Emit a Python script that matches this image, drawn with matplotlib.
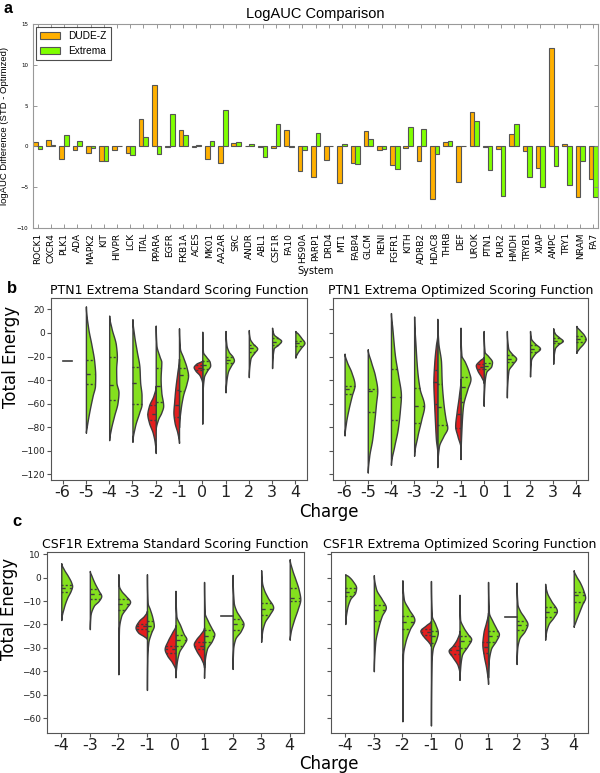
"""LogAUC comparison bars plus split violin plots of total energy by charge."""

import matplotlib
matplotlib.use("Agg")
import matplotlib.pyplot as plt
import numpy as np

# ------------------------------------------------------------------ panel a
SYSTEMS = ["ROCK1", "CXCR4", "PLK1", "ADA", "MAPK2", "KIT", "HIVPR", "LCK",
           "ITAL", "PPARA", "EGFR", "FKB1A", "ACES", "MK01", "AA2AR", "SRC",
           "ANDR", "ABL1", "CSF1R", "FA10", "HS90A", "PARP1", "DRD4", "MT1",
           "FABP4", "GLCM", "RENI", "FGFR1", "KITH", "ADRB2", "HDAC8", "THRB",
           "DEF", "UROK", "PTN1", "PUR2", "HMDH", "TRYB1", "XIAP", "AMPC",
           "TRY1", "NRAM", "FA7"]
DUDEZ_DIFF = [0.6, 0.75, -1.5, -0.5, -0.8, -1.75, -0.5, -0.85, 3.4, 7.55,
              -0.1, 2.0, -0.05, -1.6, -2.0, 0.45, 0.1, -0.05, -0.15, 2.0,
              -3.0, -3.8, -1.65, -4.45, -2.0, 1.9, -0.45, -2.25, -0.2, -1.8,
              -6.45, 0.5, -4.35, 4.25, -0.05, -0.3, 1.5, -0.55, -2.65, 12.0,
              0.35, -6.2, -4.0]
EXTREMA_DIFF = [-0.3, 0.15, 1.45, 0.7, -0.25, -1.8, 0.05, -1.05, 1.15, -0.9,
                4.0, 1.45, 0.2, 0.7, 4.4, 0.6, 0.35, -1.3, 2.75, -0.05,
                -0.5, 1.6, 0.02, 0.25, -2.15, 0.95, -0.3, -2.75, 2.4, 2.15,
                -0.95, 0.65, 0.05, 3.1, -2.9, -6.1, 2.75, -3.8, -5.0, -2.4,
                -4.75, -1.8, -6.15]

# ------------------------------------------------------------ panels b / c
# Each half violin: charge -> (energy knots, scaled density, quartiles 25/50/75)
PTN1_CHARGES = list(range(-6, 5))
CSF1R_CHARGES = list(range(-4, 5))

PTN1_STD_GREEN = {
    -5: ([22.6, 4.0, -10.3, -24.6, -36.1, -44.7, -53.2, -67.5, -79.0, -84.7],
         [0, .10, .24, .36, .40, .39, .29, .14, .04, 0], [-43.5, -35.2, -22.6]),
    -4: ([14.8, 4.0, -10.3, -20.3, -30.4, -41.8, -50.4, -59.0, -70.4, -81.9, -91.0],
         [0, .10, .29, .33, .30, .31, .40, .36, .21, .07, 0], [-57.0, -43.8, -20.6]),
    -3: ([11.7, -1.7, -16.0, -28.9, -41.8, -53.2, -60.4, -67.5, -79.0, -92.4],
         [0, .07, .19, .30, .33, .39, .39, .29, .11, 0], [-60.7, -42.4, -28.9]),
    -2: ([6.3, -10.3, -20.3, -24.6, -38.9, -50.4, -61.8, -67.5, -73.3, -81.9],
         [0, .03, .17, .24, .21, .24, .32, .24, .10, 0], [-59.0, -45.0, -29.5]),
    -1: ([4.0, -13.2, -20.3, -28.9, -36.1, -43.2, -53.2, -64.7, -80.0],
         [0, .04, .17, .32, .39, .32, .17, .07, 0], [-49.0, -36.0, -30.0]),
    0: ([1.1, -16.0, -20.3, -24.6, -27.5, -31.8, -37.5, -53.2, -77.0],
        [0, .03, .17, .32, .34, .21, .07, .01, 0], [-30.5, -27.5, -24.0]),
    1: ([1.7, -10.3, -16.0, -20.3, -23.2, -27.5, -33.2, -41.8, -50.4],
        [0, .04, .14, .31, .36, .24, .10, .03, 0], [-25.7, -23.0, -20.2]),
    2: ([2.5, -4.6, -8.9, -13.2, -16.6, -21.8, -37.5],
        [0, .04, .17, .36, .24, .07, 0], [-16.0, -13.0, -10.5]),
    3: ([4.5, -1.2, -4.0, -6.6, -9.8, -13.2, -29.8],
        [0, .07, .24, .39, .27, .07, 0], [-10.3, -7.5, -4.6]),
    4: ([1.7, -0.3, -4.6, -8.3, -12.6, -17.5, -20.9],
        [0, .10, .27, .39, .24, .07, 0], [-10.9, -8.3, -6.6]),
}
PTN1_STD_RED = {
    -2: ([-44.7, -53.2, -61.8, -69.0, -76.1, -84.7, -93.3, -101.9],
         [0, .10, .29, .36, .29, .13, .04, 0], [-74.0, -69.0, -61.0]),
    -1: ([-21.8, -33.2, -47.5, -59.0, -67.5, -76.1, -84.7, -93.3],
         [0, .07, .16, .21, .24, .19, .07, 0], [-71.5, -61.0, -48.0]),
    0: ([-23.2, -26.1, -28.9, -31.8, -36.1, -43.2],
        [0, .26, .37, .30, .11, 0], [-31.0, -29.5, -27.5]),
}
PTN1_STD_GREEN_SINGLE = {-6: -24.0}

PTN1_OPT_GREEN = {
    -6: ([-17.5, -24.6, -33.2, -44.1, -53.2, -64.7, -76.1, -87.0],
         [0, .10, .29, .43, .31, .17, .06, 0], [-52.1, -47.5, -44.7]),
    -5: ([-13.8, -24.6, -36.1, -49.0, -59.0, -73.3, -90.4, -104.8, -118.5],
         [0, .14, .31, .41, .36, .29, .19, .06, 0], [-67.0, -49.0, -47.5]),
    -4: ([16.9, 4.0, -18.9, -36.1, -53.2, -64.7, -81.9, -96.2, -111.9],
         [0, .06, .17, .31, .43, .39, .29, .14, 0], [-73.8, -54.1, -30.9]),
    -3: ([14.0, -10.3, -33.2, -47.5, -61.8, -73.3, -87.6, -104.2],
         [0, .06, .14, .24, .43, .31, .14, 0], [-76.7, -62.4, -47.0]),
    -2: ([12.0, -7.5, -24.6, -41.8, -59.0, -73.3, -80.4, -87.6, -96.2, -113.9],
         [0, .04, .16, .19, .26, .36, .43, .26, .07, 0], [-78.4, -62.7, -43.2]),
    -1: ([4.5, -18.9, -24.6, -33.2, -38.9, -47.5, -61.8, -81.9, -107.0],
         [0, .04, .19, .36, .43, .30, .11, .04, 0], [-59.0, -45.5, -37.5]),
    0: ([1.7, -16.0, -19.5, -24.6, -28.1, -33.2, -41.8, -61.8],
        [0, .04, .19, .36, .33, .11, .04, 0], [-30.9, -28.1, -25.2]),
    1: ([1.7, -13.2, -17.5, -21.8, -26.1, -31.8, -54.7],
        [0, .06, .21, .40, .26, .07, 0], [-24.6, -21.8, -18.9]),
    2: ([1.7, -4.6, -8.9, -13.2, -17.5, -23.2, -36.9],
        [0, .04, .21, .43, .21, .04, 0], [-16.0, -13.2, -10.3]),
    3: ([4.0, -0.3, -3.8, -6.6, -9.8, -13.2, -26.1],
        [0, .07, .26, .41, .21, .07, 0], [-8.9, -6.6, -4.0]),
    4: ([6.0, 2.5, -1.8, -5.2, -8.9, -13.2, -16.9],
        [0, .14, .33, .40, .30, .11, 0], [-8.0, -5.2, -2.3]),
}
PTN1_OPT_RED = {
    -2: ([-1.2, -10.3, -24.6, -41.8, -59.0, -76.1, -90.4, -101.9],
         [0, .06, .13, .17, .14, .10, .06, 0], [-60.0, -42.0, -31.0]),
    -1: ([-38.9, -53.2, -67.5, -79.0, -87.6, -97.6],
         [0, .07, .17, .23, .13, 0], [-81.0, -69.0, -55.0]),
    0: ([-20.3, -23.2, -27.5, -31.8, -37.5, -42.4],
        [0, .17, .34, .27, .10, 0], [-30.4, -28.9, -26.0]),
}

CSF1R_STD_GREEN = {
    -4: ([6.2, 3.6, 0.8, -2.1, -3.5, -5.6, -8.5, -12.7, -18.1],
         [0, .09, .23, .35, .38, .33, .21, .09, 0], [-6.1, -4.4, -3.2]),
    -3: ([2.9, 0.8, -2.1, -5.6, -7.8, -9.9, -12.0, -16.3, -22.0],
         [0, .06, .16, .31, .40, .31, .14, .02, 0], [-9.3, -7.0, -5.0]),
    -2: ([1.5, -3.5, -5.6, -7.8, -10.3, -12.7, -16.3, -22.0, -41.3],
         [0, .02, .10, .26, .41, .29, .10, .02, 0], [-13.9, -11.4, -9.3]),
    -1: ([1.5, -10.6, -13.4, -17.0, -20.5, -23.4, -27.6, -34.7, -48.0],
         [0, .02, .10, .19, .24, .15, .05, .01, 0], [-22.8, -20.6, -18.6]),
    0: ([-5.6, -16.3, -20.5, -24.1, -26.2, -28.4, -31.9, -37.6, -42.6],
        [0, .03, .17, .29, .38, .29, .12, .03, 0], [-29.3, -26.7, -24.5]),
    1: ([-1.8, -14.9, -18.4, -22.0, -24.1, -26.9, -30.5, -36.2, -42.8],
        [0, .02, .13, .28, .36, .28, .10, .02, 0], [-27.6, -25.1, -22.4]),
    2: ([1.2, -10.6, -14.2, -17.0, -19.8, -22.7, -26.2, -30.5, -39.0],
        [0, .04, .13, .27, .38, .29, .09, .02, 0], [-22.4, -19.8, -17.7]),
    3: ([3.2, -2.1, -4.9, -8.5, -12.7, -15.6, -19.1, -23.4, -27.4],
        [0, .03, .09, .23, .42, .30, .12, .03, 0], [-16.0, -13.2, -10.6]),
    4: ([7.9, 3.6, -0.7, -4.9, -9.2, -13.4, -18.4, -23.4, -26.5],
        [0, .08, .20, .31, .37, .28, .14, .03, 0], [-9.9, -8.5, -4.6]),
}
CSF1R_STD_RED = {
    -1: ([-14.1, -16.3, -18.4, -21.3, -23.4, -25.1, -26.2],
         [0, .10, .28, .40, .31, .10, 0], [-22.0, -20.8, -19.8]),
    0: ([-20.3, -23.4, -26.9, -30.5, -33.3, -36.2, -39.7],
        [0, .12, .27, .38, .29, .12, 0], [-32.2, -30.5, -29.1]),
    1: ([-21.3, -24.1, -26.2, -28.4, -31.2, -34.7, -38.3],
        [0, .13, .27, .36, .27, .10, 0], [-30.5, -29.0, -27.4]),
}
CSF1R_STD_RED_SINGLE = {2: -16.5}

CSF1R_OPT_GREEN = {
    -4: ([1.5, 0.8, -1.4, -4.2, -6.3, -9.2, -13.4, -19.8],
         [0, .09, .26, .38, .35, .17, .06, 0], [-8.0, -6.2, -4.5]),
    -3: ([1.1, -4.9, -9.2, -12.7, -16.3, -22.0, -27.6, -40.0],
         [0, .08, .28, .42, .28, .14, .05, 0], [-18.4, -13.7, -11.7]),
    -2: ([-1.1, -9.2, -13.4, -18.0, -22.0, -27.6, -33.3, -61.4],
         [0, .05, .22, .42, .26, .10, .02, 0], [-22.0, -19.1, -16.3]),
    -1: ([-1.4, -16.3, -19.8, -23.4, -26.2, -30.5, -36.2, -63.2],
         [0, .03, .15, .24, .19, .06, .02, 0], [-28.1, -25.1, -22.7]),
    0: ([-7.3, -17.7, -21.3, -24.1, -26.2, -29.1, -33.3, -39.0, -43.7],
        [0, .02, .14, .29, .41, .29, .08, .02, 0], [-30.1, -27.2, -25.1]),
    1: ([-1.8, -14.9, -18.4, -22.0, -24.1, -26.9, -30.5, -36.2, -42.6],
        [0, .03, .15, .30, .38, .28, .10, .02, 0], [-27.6, -25.1, -22.7]),
    2: ([-2.1, -11.3, -14.2, -17.0, -19.8, -22.7, -26.2, -30.5, -36.9],
        [0, .03, .12, .27, .38, .29, .09, .02, 0], [-22.4, -20.3, -18.4]),
    3: ([-2.6, -6.3, -9.9, -14.2, -17.0, -19.8, -23.4, -26.5],
        [0, .06, .21, .41, .29, .12, .03, 0], [-17.0, -14.6, -12.4]),
    4: ([3.2, 0.8, -2.1, -5.6, -8.5, -11.3, -15.6, -19.1, -21.0],
        [0, .08, .22, .34, .40, .30, .16, .05, 0], [-10.2, -7.5, -6.1]),
}
CSF1R_OPT_RED = {
    -1: ([-18.4, -20.3, -22.7, -25.1, -27.6, -29.3],
         [0, .17, .37, .26, .08, 0], [-24.5, -23.4, -22.0]),
    0: ([-22.7, -26.2, -29.1, -31.2, -34.0, -37.6, -41.1],
        [0, .09, .24, .38, .24, .06, 0], [-32.6, -30.8, -29.3]),
    1: ([-14.9, -19.1, -23.4, -28.4, -33.3, -39.0, -45.4],
        [0, .07, .16, .20, .15, .06, 0], [-32.2, -29.8, -27.6]),
}
CSF1R_OPT_RED_SINGLE = {2: -17.0}

ORANGE = "#FFB000"
LIME = "#80FF00"
V_GREEN = "#84E01E"
V_RED = "#E41E1E"
EDGE = "#3d3d3d"
SPINE = "#555555"


def pchip(x, y, xn):
    """Shape preserving cubic through the read-off knots (keeps width >= 0)."""
    x = np.asarray(x, float)
    y = np.asarray(y, float)
    h = np.diff(x)
    delta = np.diff(y) / h
    m = np.zeros_like(y)
    for k in range(1, len(x) - 1):
        if delta[k - 1] * delta[k] > 0:
            w1 = 2 * h[k] + h[k - 1]
            w2 = h[k] + 2 * h[k - 1]
            m[k] = (w1 + w2) / (w1 / delta[k - 1] + w2 / delta[k])
    xn = np.asarray(xn, float)
    i = np.clip(np.searchsorted(x, xn) - 1, 0, len(x) - 2)
    t = (xn - x[i]) / h[i]
    return ((2 * t**3 - 3 * t**2 + 1) * y[i] + (t**3 - 2 * t**2 + t) * h[i] * m[i]
            + (-2 * t**3 + 3 * t**2) * y[i + 1] + (t**3 - t**2) * h[i] * m[i + 1])


def half_violin(ax, pos, side, energies, density, quartiles, color):
    e = np.asarray(energies, float)[::-1]
    d = np.asarray(density, float)[::-1]
    grid = np.linspace(e[0], e[-1], 300)
    w = np.clip(pchip(e, d, grid), 0, None)
    ax.fill_betweenx(grid, pos, pos + side * w, facecolor=color,
                     edgecolor=EDGE, linewidth=1.0, zorder=2)
    for q, dash in zip(quartiles, [(1.5, 1.5), (3, 3), (1.5, 1.5)]):
        wq = float(np.clip(pchip(e, d, [q])[0], 0, None))
        ax.plot([pos, pos + side * wq], [q, q], color=EDGE, lw=1.0,
                dashes=dash, zorder=3)


def violin_panel(ax, charges, green, red, green_single, red_single, title,
                 ylim, yticks, show_ylabels):
    for pos, ch in enumerate(charges):
        if ch in green:
            half_violin(ax, pos, 1, *green[ch], V_GREEN)
        if ch in red:
            half_violin(ax, pos, -1, *red[ch], V_RED)
        if ch in green_single:
            ax.plot([pos, pos + 0.4], [green_single[ch]] * 2, color=EDGE, lw=1.2)
        if ch in red_single:
            ax.plot([pos - 0.4, pos], [red_single[ch]] * 2, color=EDGE, lw=1.2)
    ax.set_xlim(-0.5, len(charges) - 0.5)
    ax.set_ylim(*ylim)
    ax.set_xticks(range(len(charges)))
    ax.set_xticklabels([str(c) for c in charges], fontsize=11.5)
    ax.set_yticks(yticks)
    ax.tick_params(colors=SPINE, labelcolor="#222222", width=0.8)
    ax.tick_params(axis="y", labelsize=6.5, labelleft=show_ylabels,
                   length=3, pad=1.5)
    ax.tick_params(axis="x", length=3, pad=0.3)
    for s in ax.spines.values():
        s.set_color(SPINE)
    ax.set_title(title, fontsize=9, pad=3)


def main() -> None:
    fig = plt.figure(figsize=(6.0, 7.73), dpi=100)
    W, H = 600.0, 773.0

    def box(left, top, right, bottom):
        return [left / W, 1 - bottom / H, (right - left) / W, (bottom - top) / H]

    # ---------------------------------------------------------- panel a
    ax = fig.add_axes(box(33, 24, 598, 228))
    x = np.arange(len(SYSTEMS))
    ax.bar(x, DUDEZ_DIFF, width=0.35, align="edge", color=ORANGE,
           edgecolor="#555555", linewidth=0.8, label="DUDE-Z")
    ax.bar(x + 0.35, EXTREMA_DIFF, width=0.35, align="edge", color=LIME,
           edgecolor="#555555", linewidth=0.8, label="Extrema")
    ax.set_xlim(0, len(SYSTEMS) - 0.3)
    ax.set_ylim(-10, 15)
    ax.set_xticks(x + 0.35)
    ax.set_xticklabels(SYSTEMS, rotation=90, fontsize=6.5)
    ax.set_yticks([-10, -5, 0, 5, 10, 15])
    ax.tick_params(axis="y", labelsize=4)
    ax.tick_params(direction="in", top=True, right=True, colors="#888888",
                   labelcolor="black", length=3, width=0.6)
    for s in ax.spines.values():
        s.set_color("#999999")
    ax.set_xlabel("System", fontsize=7, labelpad=1)
    ax.set_ylabel("logAUC Difference (STD - Optimized)", fontsize=6.8,
                  family="Liberation Sans")
    ax.yaxis.set_label_coords(-0.042, 0.5)
    ax.set_title("LogAUC Comparison", fontsize=10.5, family="Liberation Sans",
                 pad=4)
    leg = ax.legend(loc="upper left", fancybox=False, borderaxespad=0.3,
                    prop={"family": "Liberation Sans", "size": 7.3})
    leg.get_frame().set_edgecolor("#222222")
    leg.get_frame().set_linewidth(0.8)

    # ---------------------------------------------------------- panel b
    b1 = fig.add_axes(box(51, 298, 307, 480))
    b2 = fig.add_axes(box(333, 298, 588, 480))
    b_ylim = (-124.8, 29.7)
    b_ticks = range(-120, 21, 20)
    violin_panel(b1, PTN1_CHARGES, PTN1_STD_GREEN, PTN1_STD_RED,
                 PTN1_STD_GREEN_SINGLE, {}, "PTN1 Extrema Standard Scoring Function",
                 b_ylim, b_ticks, True)
    violin_panel(b2, PTN1_CHARGES, PTN1_OPT_GREEN, PTN1_OPT_RED, {}, {},
                 "PTN1 Extrema Optimized Scoring Function", b_ylim, b_ticks, False)

    # ---------------------------------------------------------- panel c
    c1 = fig.add_axes(box(47, 552, 304, 733))
    c2 = fig.add_axes(box(331, 552, 588, 733))
    c_ylim = (-66.4, 11.0)
    c_ticks = range(-60, 11, 10)
    violin_panel(c1, CSF1R_CHARGES, CSF1R_STD_GREEN, CSF1R_STD_RED, {},
                 CSF1R_STD_RED_SINGLE, "CSF1R Extrema Standard Scoring Function",
                 c_ylim, c_ticks, True)
    violin_panel(c2, CSF1R_CHARGES, CSF1R_OPT_GREEN, CSF1R_OPT_RED, {},
                 CSF1R_OPT_RED_SINGLE, "CSF1R Extrema Optimized Scoring Function",
                 c_ylim, c_ticks, False)

    # ---------------------------------------------------- shared labels
    for ypix in (512, 764):
        fig.text(329 / W, 1 - ypix / H, "Charge", fontsize=12, ha="center",
                 va="center")
    for xpix, ypix in ((11, 357), (9, 609)):
        fig.text(xpix / W, 1 - ypix / H, "Total Energy", fontsize=12,
                 rotation=90, ha="center", va="center")
    fig.text(8 / W, 1 - 1 / H, "a", fontsize=11.5, fontweight="bold",
             family="Liberation Sans", ha="center", va="top")
    for label, xp, yp in (("b", 12, 288), ("c", 17, 521)):
        fig.text(xp / W, 1 - yp / H, label, fontsize=12, fontweight="bold",
                 family="Liberation Sans", ha="center", va="center")

    fig.savefig("out.png", dpi=100)


if __name__ == "__main__":
    main()
